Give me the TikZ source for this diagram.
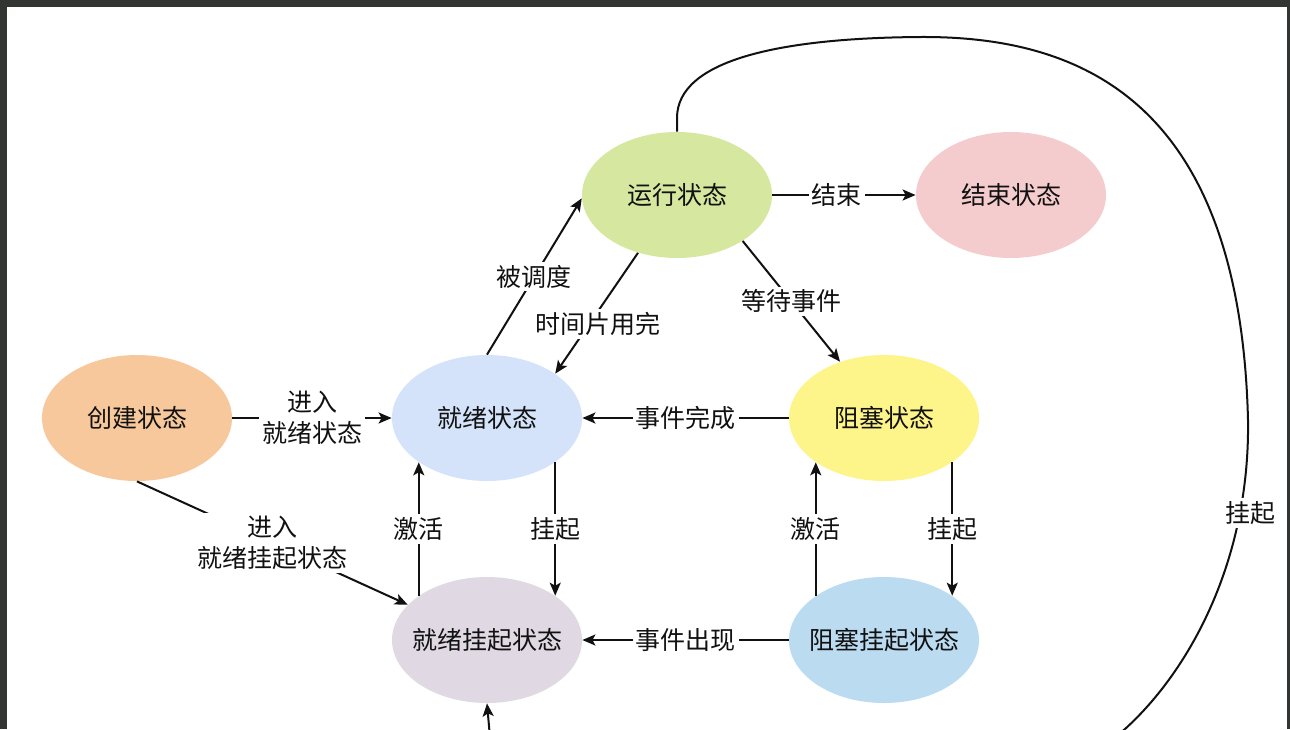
\documentclass[tikz,border=0pt]{standalone}
\usepackage{fontspec}
\setmainfont{Noto Sans CJK SC}
\usetikzlibrary{shapes.geometric,arrows.meta}
\definecolor{cCreate}{HTML}{F7C89C}
\definecolor{cReady}{HTML}{D4E3FA}
\definecolor{cRun}{HTML}{D6E89F}
\definecolor{cEnd}{HTML}{F4CCCD}
\definecolor{cBlock}{HTML}{FDF48A}
\definecolor{cRSus}{HTML}{E0D9E4}
\definecolor{cBSus}{HTML}{BBDBF1}
\definecolor{frameC}{HTML}{333533}
\definecolor{inkC}{HTML}{111111}
\begin{document}
\begin{tikzpicture}[x=0.5pt,y=-0.5pt,
  state/.style={ellipse,minimum width=95pt,minimum height=63pt,inner xsep=-6pt,inner ysep=0pt,
    font=\fontsize{12.5}{15}\selectfont,text=inkC},
  arr/.style={line width=1pt,draw=inkC,-{Stealth[length=6.5pt,width=5.5pt,inset=1.5pt]}},
  lab/.style={fill=white,inner sep=1.5pt,font=\fontsize{12.5}{15.5}\selectfont,text=inkC,align=center}]
\useasboundingbox (0,0) rectangle (1290,729);
\fill[frameC] (0,0) rectangle (1290,729);
\fill[white] (7,7) rectangle (1287,729);

\node[state,fill=cCreate] (create) at (137,418) {创建状态};
\node[state,fill=cReady] (ready) at (487,418) {就绪状态};
\node[state,fill=cRun] (run) at (677,195) {运行状态};
\node[state,fill=cEnd] (end) at (1011,195) {结束状态};
\node[state,fill=cBlock] (block) at (884,418) {阻塞状态};
\node[state,fill=cRSus] (rsus) at (487,640) {就绪挂起状态};
\node[state,fill=cBSus] (bsus) at (884,640) {阻塞挂起状态};

\draw[arr] (create.east) -- node[lab,pos=0.5] {进入\\就绪状态} (ready.west);
\draw[arr] (create.south) -- node[lab,pos=0.5] {进入\\就绪挂起状态} (rsus.156);
\draw[arr] (ready.north) -- node[lab,pos=0.5] {被调度} (run.182);
\draw[arr] (run.236) -- node[lab,pos=0.59,xshift=4.5pt] {时间片用完} (ready.33);
\draw[arr] (run.east) -- node[lab,pos=0.45] {结束} (end.west);
\draw[arr] (run.-35) -- node[lab,pos=0.5] {等待事件} (block.128);
\draw[arr] (block.west) -- node[lab,pos=0.5] {事件完成} (ready.east);
\draw[arr] (ready.-33) -- node[lab,pos=0.5] {挂起} (rsus.33);
\draw[arr] (rsus.147) -- node[lab,pos=0.5] {激活} (ready.213);
\draw[arr] (block.-33) -- node[lab,pos=0.5] {挂起} (bsus.33);
\draw[arr] (bsus.147) -- node[lab,pos=0.5] {激活} (block.213);
\draw[arr] (bsus.west) -- node[lab,pos=0.5] {事件出现} (rsus.east);

\begin{scope}
\clip (7,7) rectangle (1287,729);
\draw[arr] (run.north) -- (677,118) .. controls (677,60) and (780,38) .. (920,37)
  .. controls (1080,36) and (1240,100) .. (1248,420)
  .. controls (1250,560) and (1190,670) .. (1125,729)
  .. controls (1050,800) and (495,790) .. (492,760)
  -- (rsus.south);
\end{scope}
\node[lab] (suslab) at (1250,513) {挂起};
\end{tikzpicture}
\end{document}
